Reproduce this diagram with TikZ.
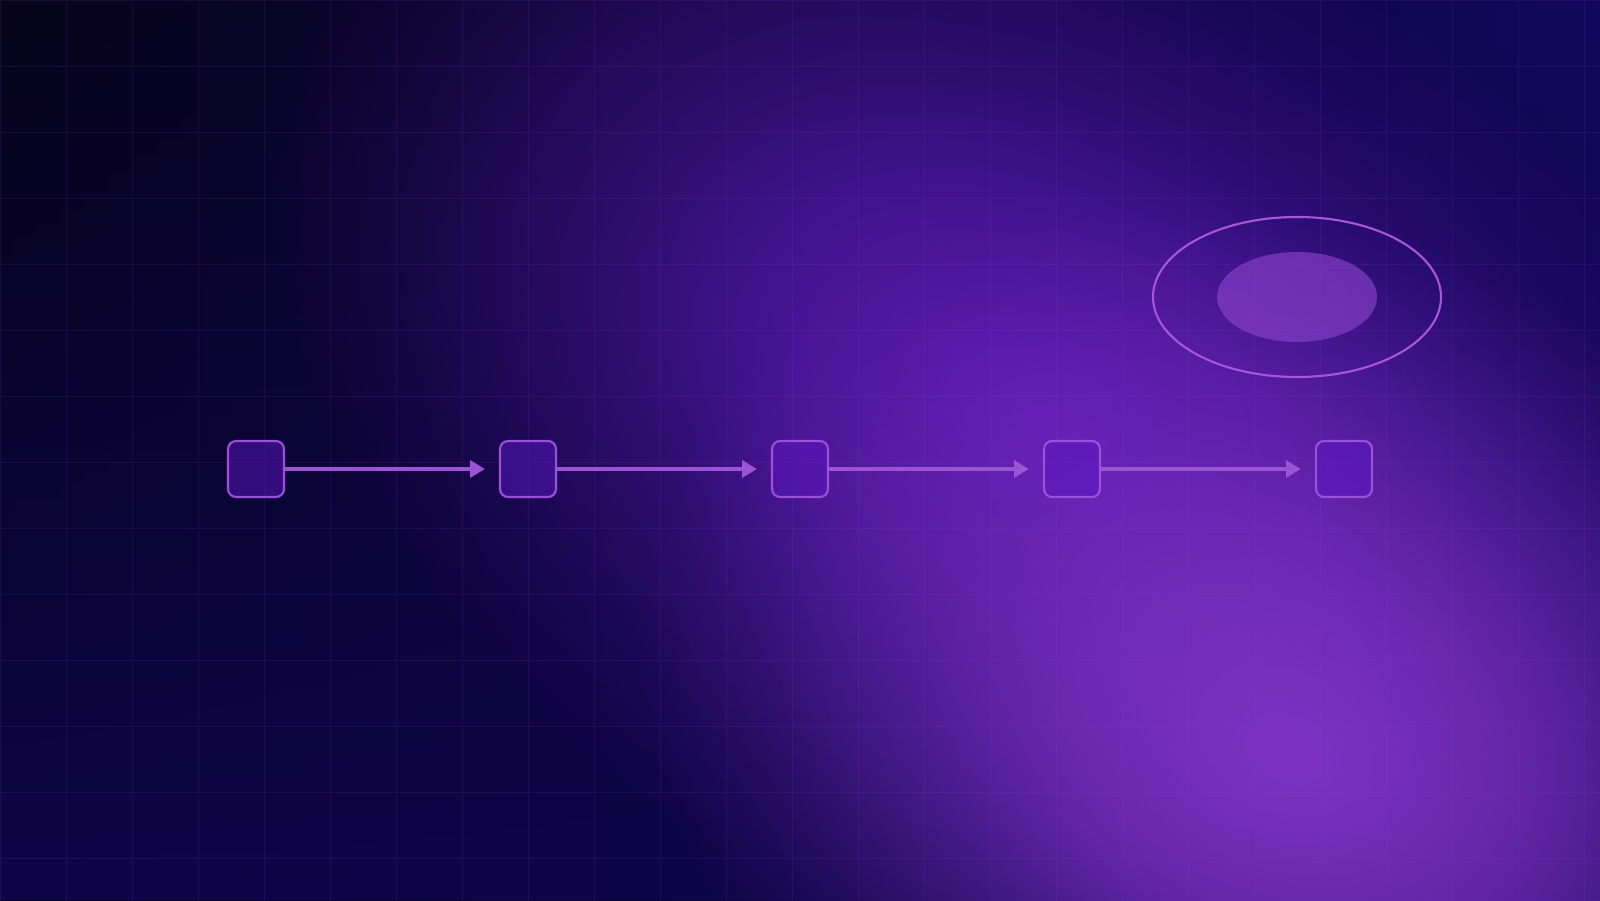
\documentclass[tikz,border=0pt]{standalone}
\usetikzlibrary{arrows.meta,shapes.geometric,fadings}

\definecolor{bgleft}{HTML}{06031A}
\definecolor{bgright}{HTML}{13075C}
\definecolor{bglow}{HTML}{0F0548}
\definecolor{glowmid}{HTML}{5A1AB0}
\definecolor{glowhot}{HTML}{7E32C4}
\definecolor{gridpurple}{HTML}{8A4FD8}
\definecolor{boxpurple}{HTML}{5A16C0}
\definecolor{edgepurple}{HTML}{9B50DC}
\definecolor{linepurple}{HTML}{9C52D4}
\definecolor{ringpurple}{HTML}{A656DA}
\definecolor{corepurple}{HTML}{8F45D0}

% soft glow, opaque in the middle
\pgfdeclareradialshading{glowshade}{\pgfpointorigin}{color(0bp)=(pgftransparent!0); color(8bp)=(pgftransparent!25); color(14bp)=(pgftransparent!58); color(20bp)=(pgftransparent!85); color(25bp)=(pgftransparent!100); color(50bp)=(pgftransparent!100)}
\pgfdeclarefading{glowfade}{\pgfuseshading{glowshade}}

\begin{document}
\begin{tikzpicture}[
  gridline/.style={draw=gridpurple, draw opacity=0.13, line width=0.28pt},
  stage/.style={draw=edgepurple, fill=boxpurple, fill opacity=0.5, line width=0.6pt,
    rounded corners=2.3pt, minimum size=0.56cm, inner sep=0pt},
  flow/.style={-{Triangle[length=4.2pt,width=4.8pt]}, draw=linepurple, line width=1pt, shorten >=4pt},
  ring/.style={draw=ringpurple, ellipse, line width=0.6pt, minimum width=2.88cm, minimum height=1.6cm, inner sep=0pt},
  core/.style={fill=corepurple, fill opacity=0.6, ellipse, minimum width=1.6cm, minimum height=0.9cm, inner sep=0pt}]
  \useasboundingbox (0,0) rectangle (16,9);
  \clip (0,0) rectangle (16,9);
  % background
  \shade[left color=bgleft, right color=bgright] (0,0) rectangle (16,9);
  \fill[bglow, path fading=north] (0,0) rectangle (16,9);
  \begin{scope}[transform canvas={rotate around={-30:(10.4,4.8)}}]
    \fill[glowmid, path fading=glowfade] (10.4,4.8) ellipse (8.4 and 5.4);
  \end{scope}
  \begin{scope}[transform canvas={rotate around={-25:(12.9,1.5)}}]
    \fill[glowhot, path fading=glowfade] (12.9,1.5) ellipse (6.8 and 5.2);
  \end{scope}
  \draw[gridline, shift={(0,9)}] (0,0) grid[step=0.66] (16,-9);
  % pipeline
  \node[stage] (s1) at (2.56,4.31) {};
  \node[stage] (s2) at (5.28,4.31) {};
  \node[stage] (s3) at (8.00,4.31) {};
  \node[stage] (s4) at (10.72,4.31) {};
  \node[stage] (s5) at (13.44,4.31) {};
  \draw[flow] (s1) -- (s2);
  \draw[flow] (s2) -- (s3);
  \draw[flow] (s3) -- (s4);
  \draw[flow] (s4) -- (s5);
  % target
  \node[ring] (ring) at (12.97,6.03) {};
  \node[core] (core) at (ring.center) {};
\end{tikzpicture}
\end{document}
